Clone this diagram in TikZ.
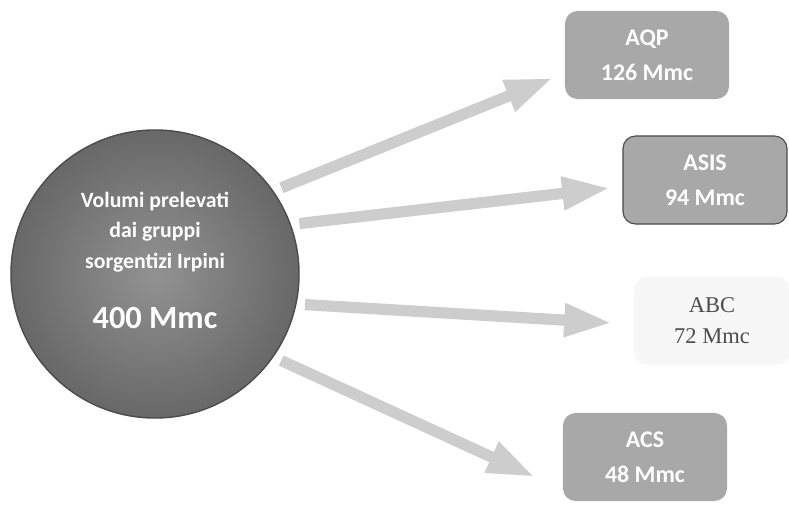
\documentclass[tikz,border=0pt]{standalone}
\usepackage{fontspec}
\setmainfont{Carlito}
\newfontfamily\serfont{Liberation Serif}
\usetikzlibrary{arrows.meta}
\definecolor{discgrey}{HTML}{686868}
\definecolor{discmid}{HTML}{929292}
\definecolor{boxgrey}{HTML}{A8A8A8}
\definecolor{arrowgrey}{HTML}{CDCDCD}

\begin{document}
\begin{tikzpicture}[x=0.025cm,y=-0.025cm]
\tikzstyle{every node}+=[inner sep=0pt, align=center]
\tikzstyle{ente}=[rectangle, rounded corners=9pt, fill=boxgrey, minimum width=4.1cm, minimum height=2.2cm, text=white, font=\bfseries\fontsize{17}{25}\selectfont]
\tikzstyle{flusso}=[draw=arrowgrey, line width=8pt, -{Triangle[length=34pt,width=22pt]}, shorten <=6pt]
\useasboundingbox (0,0) rectangle (789,507);
\node [circle, minimum size=7.2cm, inner color=discmid, outer color=discgrey, draw=black!70, line width=1pt] (vol) at (155,274) {};
\node [text=white, font=\bfseries\fontsize{15.5}{21.5}\selectfont] (voltxt) at (155,232) {Volumi prelevati\\dai gruppi\\sorgentizi Irpini};
\node [text=white, font=\bfseries\fontsize{23}{28}\selectfont] (voltot) at (155,318) {400 Mmc};
\node [ente] (aqp) at (647,55) {AQP\\126 Mmc};
\node [ente, draw=black!70, line width=0.8pt] (asis) at (705,180) {ASIS\\94 Mmc};
\node [ente, fill=gray!6, minimum width=3.9cm, text=black!70, font=\serfont\fontsize{16}{22}\selectfont] (abc) at (712,321) {ABC\\72 Mmc};
\node [ente] (acs) at (645,457) {ACS\\48 Mmc};
\coordinate (t1) at (553,78);
\coordinate (t2) at (610,188);
\coordinate (t3) at (612,323);
\coordinate (t4) at (535,477);
\draw [flusso] (vol.35) -- (t1);
\draw [flusso] (vol.20) -- (t2);
\draw [flusso] (vol.-12) -- (t3);
\draw [flusso] (vol.-35) -- (t4);
\end{tikzpicture}
\end{document}
